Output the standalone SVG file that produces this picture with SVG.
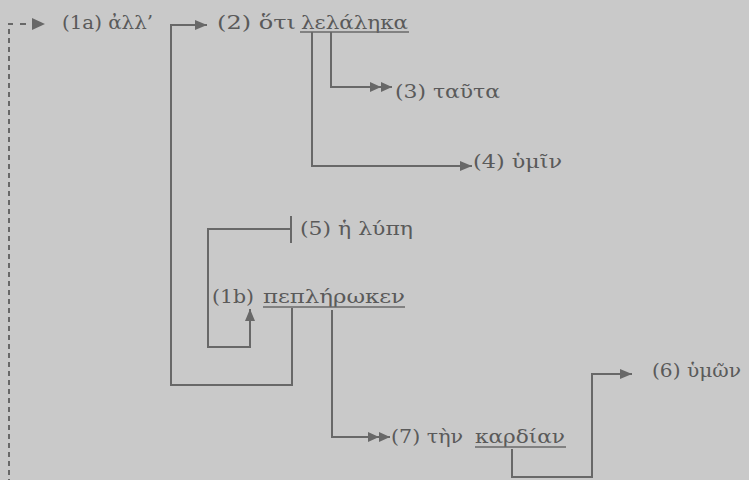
<svg xmlns="http://www.w3.org/2000/svg" width="749" height="480" viewBox="0 0 749 480">
<style>
text{font-family:"DejaVu Serif","Liberation Serif",serif;font-size:18px;fill:#5a5a5a}
.c{fill:none;stroke:#686868;stroke-width:2}
.u{stroke:#686868;stroke-width:1.5}
.d{fill:none;stroke:#686868;stroke-width:2;stroke-dasharray:5,4}
</style>
<defs>
<marker id="a" viewBox="0 0 12 10" refX="12" refY="5" markerWidth="12" markerHeight="10" markerUnits="userSpaceOnUse" orient="auto"><path d="M0,0L12,5L0,10z" fill="#686868"/></marker>
<marker id="aa" viewBox="0 0 22 10" refX="22" refY="5" markerWidth="22" markerHeight="10" markerUnits="userSpaceOnUse" orient="auto"><path d="M0,0L11,5L0,10zM11,0L22,5L11,10z" fill="#686868"/></marker>
</defs>
<rect width="749" height="480" fill="#c9c9c9"/>
<g id="connectors">
<path class="d" d="M13,24H9V480"/>
<path class="c" d="M20,24H26"/>
<path d="M32,18L45,24L32,30z" fill="#686868"/>
<path class="c" d="M292,308V385H171V25H207" marker-end="url(#a)"/>
<path class="c" d="M331,32V87H392" marker-end="url(#aa)"/>
<path class="c" d="M312,32V166H472" marker-end="url(#a)"/>
<path class="c" d="M291,216V243M291,229H208V347H250V309" marker-end="url(#a)"/>
<path class="c" d="M332,310V437H390" marker-end="url(#aa)"/>
<path class="c" d="M512,449V477H592V374H632" marker-end="url(#a)"/>
</g>
<g id="n1a"><text x="62" y="29" textLength="91" lengthAdjust="spacingAndGlyphs">(1a) ἀλλ’</text></g>
<g id="n2"><text x="217" y="29" textLength="79" lengthAdjust="spacingAndGlyphs">(2) ὅτι</text><text x="301" y="29" textLength="107" lengthAdjust="spacingAndGlyphs">λελάληκα</text><line class="u" x1="300" y1="32" x2="409" y2="32"/></g>
<g id="n3"><text x="395" y="98" textLength="105" lengthAdjust="spacingAndGlyphs">(3) ταῦτα</text></g>
<g id="n4"><text x="473" y="168" textLength="89" lengthAdjust="spacingAndGlyphs">(4) ὑμῖν</text></g>
<g id="n5"><text x="300" y="235" textLength="113" lengthAdjust="spacingAndGlyphs">(5) ἡ λύπη</text></g>
<g id="n1b"><text x="212" y="303" textLength="42" lengthAdjust="spacingAndGlyphs">(1b)</text><text x="263" y="303" textLength="142" lengthAdjust="spacingAndGlyphs">πεπλήρωκεν</text><line class="u" x1="263" y1="307" x2="405" y2="307"/></g>
<g id="n7"><text x="391" y="443" textLength="72" lengthAdjust="spacingAndGlyphs">(7) τὴν</text><text x="475" y="443" textLength="90" lengthAdjust="spacingAndGlyphs">καρδίαν</text><line class="u" x1="475" y1="447" x2="566" y2="447"/></g>
<g id="n6"><text x="652" y="377" textLength="89" lengthAdjust="spacingAndGlyphs">(6) ὑμῶν</text></g>
</svg>
